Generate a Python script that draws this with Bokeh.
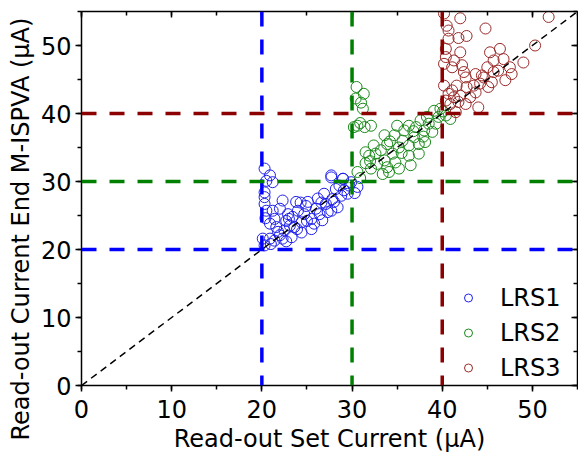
import math
from bokeh.plotting import figure
from bokeh.models import (Span, Title, Legend, LegendItem, LinearAxis, Range1d,
                          SingleIntervalTicker)
from bokeh.embed import file_html
from bokeh.resources import INLINE

# ---------------- data ----------------
lrs1_x = [20.3, 20.9, 20.5, 21.2, 20.3, 20.3, 20.3, 20.5, 21.2, 20.4, 20.9,
          22.3, 22.0, 22.9, 23.8, 24.0, 25.1, 24.7, 26.0, 27.1, 26.9, 27.7, 29.0,
          28.2, 29.1, 27.8, 28.4, 27.3, 29.7, 26.4, 25.5, 24.4, 23.4, 23.6, 24.4,
          23.1, 22.5, 22.0, 21.4, 20.9, 20.1, 20.3, 21.0, 22.3, 23.3, 25.5, 25.8,
          26.7, 27.7, 28.0, 28.8, 21.4, 21.6, 27.7, 29.0, 30.6, 29.9, 30.3, 24.9,
          22.7, 26.2, 21.8, 23.9, 25.0, 28.6, 29.5, 26.6, 22.7, 24.3, 23.0]
lrs1_y = [31.9, 30.9, 30.1, 29.9, 28.4, 27.7, 26.7, 25.7, 25.7, 24.6, 23.8,
          27.2, 26.0, 25.2, 27.0, 25.7, 27.0, 25.2, 26.0, 26.7, 28.2, 30.9, 30.4,
          28.9, 28.7, 27.4, 26.2, 25.5, 29.4, 25.2, 24.5, 24.0, 24.8, 23.3, 22.5,
          23.5, 22.8, 22.1, 21.3, 21.6, 21.6, 20.6, 20.8, 21.6, 21.8, 23.0, 23.8,
          24.3, 25.7, 27.0, 27.9, 24.5, 23.3, 30.6, 30.4, 29.2, 29.9, 28.3, 26.4,
          24.2, 27.5, 22.6, 23.0, 24.2, 29.4, 28.2, 26.9, 21.2, 26.9, 24.5]

lrs2_x = [30.5, 31.3, 30.4, 31.2, 30.6, 31.4, 32.1, 30.2, 30.9, 31.0,
          30.6, 31.5, 31.9, 32.6, 32.8, 32.1, 33.4, 34.1, 33.6, 33.2, 33.6, 34.7,
          33.9, 34.5, 34.8, 35.2, 35.6, 35.8, 36.3, 36.3, 36.9, 37.1, 37.4, 37.6,
          38.0, 38.5, 38.9, 38.3, 39.1, 39.8, 40.4, 40.9, 39.6, 37.4, 31.5, 32.4,
          35.2, 33.9, 36.5, 38.1, 35.0, 36.3, 30.9, 32.0, 34.2, 36.8, 39.3, 37.9,
          35.5, 40.1]
lrs2_y = [43.9, 42.9, 42.2, 40.7, 38.2, 38.0, 38.2, 38.0, 38.6, 41.6,
          31.4, 32.7, 33.8, 34.1, 32.6, 31.9, 31.1, 31.4, 33.1, 34.6, 36.8, 36.8,
          35.5, 34.1, 32.8, 35.0, 36.0, 37.5, 33.8, 35.3, 36.5, 38.0, 35.5, 39.0,
          37.5, 38.5, 37.3, 39.5, 40.4, 40.7, 39.7, 39.2, 39.5, 34.1, 34.3, 35.3,
          31.9, 32.1, 32.4, 35.8, 38.2, 38.2, 30.5, 33.0, 35.9, 37.4, 38.5, 36.6,
          34.2, 40.3]

lrs3_x = [40.2, 40.5, 40.7, 40.7, 41.8, 42.7, 40.4, 41.3, 42.0, 40.2, 41.1,
          42.0, 44.8, 51.8, 50.3, 49.0, 46.4, 45.3, 46.8, 47.5, 47.7, 47.0, 45.7,
          45.0, 45.5, 44.6, 44.2, 43.7, 42.7, 42.6, 42.4, 41.6, 40.2, 40.7, 41.3,
          41.8, 42.6, 43.1, 44.0, 41.5, 40.9, 40.4, 41.1, 43.7, 44.4, 45.1, 46.2,
          45.7, 42.0, 43.5, 40.4, 42.2]
lrs3_y = [54.7, 52.9, 52.2, 51.0, 51.1, 51.4, 48.3, 47.8, 49.0, 47.3, 46.8,
          54.0, 52.5, 54.2, 50.0, 47.5, 49.5, 49.0, 48.0, 46.8, 45.8, 44.9, 46.1,
          46.8, 44.6, 45.3, 44.4, 43.1, 43.9, 45.3, 46.1, 44.1, 44.1, 42.9, 42.4,
          41.7, 41.4, 42.4, 40.9, 40.2, 41.4, 41.9, 43.4, 45.8, 45.6, 43.9, 46.3,
          47.8, 42.6, 44.1, 49.5, 47.1]

series_names = ["LRS1", "LRS2", "LRS3"]
ref_levels = [20, 30, 40]
diag_x = [0, 55]
diag_y = [0, 55]

marker_colors = ["#1f1fee", "#1a8a1a", "#9a2a2a"]
line_colors = ["#0000ff", "#008000", "#8b0000"]
FONT = "DejaVu Sans"
FS = "24px"

# ---------------- figure ----------------
p = figure(width=578, height=457, output_backend="svg", toolbar_location=None,
           x_range=Range1d(0, 55), y_range=Range1d(0, 55),
           min_border_left=81, min_border_right=1, min_border_top=11,
           min_border_bottom=72, background_fill_color="white",
           border_fill_color="white", outline_line_color=None)
p.grid.visible = False

for ax in (p.xaxis[0], p.yaxis[0]):
    ax.ticker = SingleIntervalTicker(interval=10, num_minor_ticks=2)
    ax.axis_line_width = 1.5
    ax.axis_line_color = "black"
    ax.major_tick_line_width = 1.5
    ax.minor_tick_line_width = 1.5
    ax.major_tick_in = 0
    ax.major_tick_out = 6
    ax.minor_tick_in = 0
    ax.minor_tick_out = 4
    ax.major_label_text_font = FONT
    ax.major_label_text_font_size = FS
    ax.major_label_text_color = "black"
    ax.axis_label_text_font = FONT
    ax.axis_label_text_font_size = FS
    ax.axis_label_text_font_style = "normal"
    ax.axis_label_text_color = "black"

p.xaxis[0].major_label_standoff = 8
p.yaxis[0].major_label_standoff = 4
p.xaxis[0].axis_label = "Read-out Set Current (\u03bcA)"
p.xaxis[0].axis_label_standoff = 4

for side in ("above", "right"):
    a = LinearAxis(ticker=SingleIntervalTicker(interval=10, num_minor_ticks=2))
    a.axis_line_width = 1.5
    a.major_tick_line_width = 1.5
    a.minor_tick_line_width = 1.5
    a.major_tick_in = 6
    a.major_tick_out = 0
    a.minor_tick_in = 4
    a.minor_tick_out = 0
    a.major_label_overrides = {t: "" for t in range(0, 60, 10)}
    a.major_label_text_font_size = "1px"
    a.major_label_standoff = 0
    p.add_layout(a, side)

# points
for xs, ys, c in ((lrs1_x, lrs1_y, marker_colors[0]),
                  (lrs2_x, lrs2_y, marker_colors[1]),
                  (lrs3_x, lrs3_y, marker_colors[2])):
    p.scatter(xs, ys, marker="circle", size=11, fill_color=None,
              line_color=c, line_width=1)

# reference lines
for lvl, c in zip(ref_levels, line_colors):
    p.add_layout(Span(location=lvl, dimension="height", line_color=c,
                      line_width=3.5, line_dash="15 13"))
    p.add_layout(Span(location=lvl, dimension="width", line_color=c,
                      line_width=3.5, line_dash="15 13"))

p.line(diag_x, diag_y, line_color="black", line_width=1.5, line_dash="7 5")

# legend (small markers)
items = []
nan = float("nan")
for name, c in zip(series_names, marker_colors):
    r = p.scatter([nan], [nan], marker="circle", size=7, fill_color=None,
                  line_color=c, line_width=1)
    items.append(LegendItem(label=name, renderers=[r]))
legend = Legend(items=items, location=(377, 0), border_line_color=None,
                background_fill_alpha=0, padding=0, margin=0, spacing=0,
                glyph_width=20, glyph_height=35, label_height=35,
                label_standoff=22, label_text_font=FONT,
                label_text_font_size=FS, label_text_color="black")
p.add_layout(legend, "center")

# y-axis title
p.add_layout(Title(text="Read-out Current End M-ISPVA (\u03bcA)", align="left",
                   offset=-55, text_font=FONT, text_font_size=FS,
                   text_font_style="normal", text_color="black", standoff=5),
             "left")

open("out.html", "w").write(file_html(p, INLINE))
